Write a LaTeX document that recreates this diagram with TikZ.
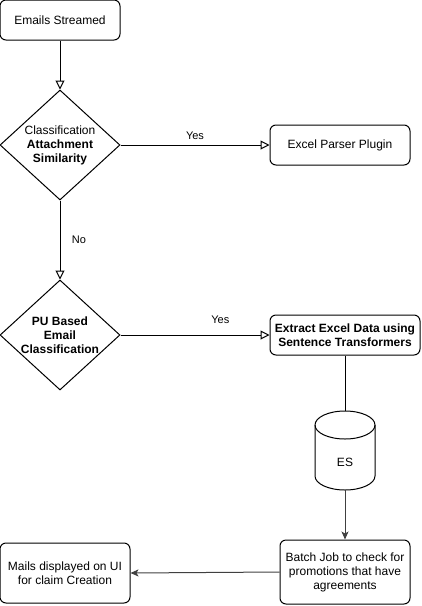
\documentclass[tikz,border=0pt]{standalone}
\usepackage{fontspec}
\setmainfont{Liberation Sans}
\usetikzlibrary{arrows.meta,shapes.geometric}
\begin{document}
\begin{tikzpicture}[x=1pt,y=-1pt,
  every node/.style={font=\fontsize{12}{14}\selectfont, align=center},
  box/.style={draw, rounded corners=6pt, line width=1pt, inner sep=0pt},
  dec/.style={draw, diamond, line width=1pt, inner sep=0pt},
  openarr/.style={line width=1pt, -{Triangle[open,length=9pt,width=9pt]}},
  fillarr/.style={line width=1pt, draw=black!75, -{Stealth[length=8pt,width=7pt,inset=2pt]}},
  plain/.style={line width=1pt},
  lbl/.style={font=\fontsize{11}{13}\selectfont}
]
\useasboundingbox (0,0) rectangle (421,606);
\node[box, minimum width=120pt, minimum height=40pt] (emails) at (60,20) {Emails Streamed};
\node[dec, minimum width=120pt, minimum height=110pt] (d1) at (60,145) {};
\node at (60,145) {Classification\\\textbf{Attachment}\\\textbf{Similarity}};
\node[box, minimum width=140pt, minimum height=40pt] (excel) at (340,145) {Excel Parser Plugin};
\node[dec, minimum width=120pt, minimum height=110pt] (d2) at (60,335) {};
\node at (60,335) {\textbf{PU Based}\\\textbf{Email}\\\textbf{Classification}};
\node[box, minimum width=150pt, minimum height=40pt] (extract) at (345,335) {\textbf{Extract Excel Data using}\\\textbf{Sentence Transformers}};
% cylinder
\draw[line width=1pt] (315,425) -- (315,476) arc[start angle=180,end angle=0,x radius=30,y radius=14] -- (375,425) arc[start angle=0,end angle=-180,x radius=30,y radius=14];
\draw[line width=1pt] (315,425) arc[start angle=180,end angle=0,x radius=30,y radius=14];
\coordinate (estop) at (345,411);
\coordinate (esbot) at (345,490);
\node (es) at (345,462) {ES};
\node[box, minimum width=130pt, minimum height=64pt] (batch) at (345,572) {Batch Job to check for\\promotions that have\\agreements};
\node[box, minimum width=130pt, minimum height=60pt] (mails) at (65,573) {Mails displayed on UI\\for claim Creation};

\draw[openarr] (emails) -- (d1.north);
\draw[openarr] (d1.east) -- (excel.west) node[lbl, midway, above=2pt] {Yes};
\draw[openarr] (d1.south) -- (d2.north) node[lbl, midway, right=8pt] {No};
\draw[openarr] (d2.east) -- (extract.west) node[lbl, pos=0.67, above=8pt] {Yes};
\draw[plain] (extract.south) -- (estop);
\draw[fillarr] (esbot) -- (batch.north);
\draw[fillarr] (batch.west) -- (mails.east);
\end{tikzpicture}
\end{document}
